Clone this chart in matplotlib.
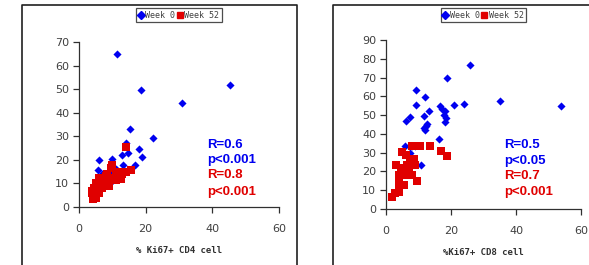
import matplotlib
matplotlib.use("Agg")
import matplotlib.pyplot as plt
from matplotlib.lines import Line2D

# ---- data ----
cd4_w0_x = [11.4, 45.3, 18.6, 31.0, 15.3, 22.1, 14.1, 18.1, 12.8, 14.8, 18.8, 6.0, 9.8,
            16.8, 13.3, 5.8, 12.4, 6.0, 8.0, 10.0, 12.0, 7.0, 9.0, 11.0]
cd4_w0_y = [64.8, 51.8, 49.5, 44.0, 33.1, 29.1, 27.3, 24.5, 22.1, 22.8, 21.1, 19.9, 20.2,
            17.8, 17.8, 15.7, 13.4, 12.0, 10.0, 11.0, 12.5, 14.0, 15.0, 16.0]
cd4_w52_x = [14.2, 15.5, 10.0, 9.5, 12.0, 11.0, 13.0, 14.0, 8.0, 7.5, 9.0, 10.0, 11.0, 6.0,
             5.0, 6.5, 4.5, 5.5, 4.0, 4.5, 5.0, 4.2, 6.0, 7.0, 8.0, 9.0, 3.8, 5.0, 12.5,
             7.0, 8.5, 6.0]
cd4_w52_y = [25.5, 15.5, 18.0, 16.5, 15.0, 13.0, 14.0, 15.0, 13.0, 12.0, 11.0, 12.5, 11.5,
             11.0, 10.0, 9.0, 8.0, 7.0, 6.0, 5.0, 4.0, 3.5, 6.0, 8.0, 9.5, 9.0, 7.0, 9.0,
             12.0, 10.0, 14.0, 12.5]

cd8_w0_x = [25.8, 18.7, 9.2, 12.1, 9.2, 35.2, 53.9, 20.8, 24.1, 16.6, 13.3, 17.2, 18.3,
            11.6, 17.7, 18.5, 18.3, 7.3, 6.3, 12.7, 11.6, 12.1, 12.3, 16.2, 5.9, 8.1,
            10.7, 9.0, 7.5]
cd8_w0_y = [76.7, 70.0, 63.3, 59.9, 55.3, 57.6, 54.9, 55.3, 55.8, 54.6, 52.1, 53.3, 52.3,
            49.6, 50.1, 48.2, 46.2, 48.9, 47.1, 45.4, 43.4, 42.2, 44.3, 37.2, 33.8, 33.8,
            23.6, 33.3, 29.8]
cd8_w52_x = [1.8, 2.9, 3.9, 3.2, 4.9, 6.2, 8.7, 7.9, 10.6, 13.6, 16.9, 18.8, 4.9, 3.9, 7.0,
             8.0, 6.5, 9.0, 9.6, 5.4, 3.9, 4.7, 7.5, 4.1, 6.0]
cd8_w52_y = [6.2, 8.5, 9.2, 23.2, 30.3, 28.9, 26.6, 33.3, 33.3, 33.3, 30.7, 28.3, 19.1,
             18.2, 20.0, 18.2, 23.2, 23.2, 15.1, 12.9, 14.7, 21.8, 24.5, 11.2, 17.9]

x_ticks = [0, 20, 40, 60]
cd4_y_ticks = [0, 10, 20, 30, 40, 50, 60, 70]
cd8_y_ticks = [0, 10, 20, 30, 40, 50, 60, 70, 80, 90]
legend_labels = ["Week 0", "Week 52"]
cd4_stats = ["R=0.6", "p<0.001", "R=0.8", "p<0.001"]
cd8_stats = ["R=0.5", "p<0.05", "R=0.7", "p<0.001"]
cd4_xlabel = "% Ki67+ CD4 cell"
cd8_xlabel = "%Ki67+ CD8 cell"

BLUE = "#0000f0"
RED = "#e00000"
W, H = 589, 265

fig = plt.figure(figsize=(W / 100, H / 100), dpi=100)
fig.patch.set_facecolor("white")

def fx(px):
    return px / W

def fy(py):
    return 1 - py / H

# panel frames
for xs, ys in [([22, 22, 297, 297], [265, 4.5, 4.5, 265]),
               ([333, 333, 589], [265, 4.5, 4.5])]:
    fig.add_artist(Line2D([fx(v) for v in xs], [fy(v) for v in ys], color="#202020",
                          lw=1.2, transform=fig.transFigure))

def panel(rect, w0x, w0y, w52x, w52y, yticks, ylim, stats, stat_x, stat_ys, xlabel, leg_c):
    ax = fig.add_axes(rect)
    ax.scatter(w0x, w0y, marker="D", s=17, color=BLUE, linewidths=0, zorder=3)
    ax.scatter(w52x, w52y, marker="s", s=36, color=RED, linewidths=0, zorder=4)
    ax.set_xlim(0, 60)
    ax.set_ylim(*ylim)
    ax.set_xticks(x_ticks)
    ax.set_yticks(yticks)
    for s in ["top", "right"]:
        ax.spines[s].set_visible(False)
    for s in ["left", "bottom"]:
        ax.spines[s].set_color("#303030")
        ax.spines[s].set_linewidth(0.9)
    ax.tick_params(axis="both", direction="out", length=4, width=0.9, colors="#303030",
                   labelsize=8, labelcolor="#404040", pad=3)
    ax.tick_params(axis="x", pad=8)
    for lab in ax.get_xticklabels() + ax.get_yticklabels():
        lab.set_family("DejaVu Sans")
    ax.set_xlabel(xlabel, family="DejaVu Sans Mono", fontweight="bold", fontsize=6.5,
                  color="#303030", labelpad=9)
    colors = [BLUE, BLUE, RED, RED]
    for t, yv, c in zip(stats, stat_ys, colors):
        ax.text(stat_x, yv, t, color=c, fontsize=9.5, fontweight="bold",
                family="Liberation Sans", ha="left", va="center")
    handles = [Line2D([], [], marker="D", ls="", color=BLUE, ms=4),
               Line2D([], [], marker="s", ls="", color=RED, ms=5)]
    leg = ax.legend(handles, legend_labels, loc="center", bbox_to_anchor=leg_c,
                    bbox_transform=fig.transFigure, ncol=2, frameon=True, fancybox=False,
                    edgecolor="#202020", handlelength=0.5, handletextpad=0.3,
                    columnspacing=0.3, borderpad=0.3, borderaxespad=0,
                    prop={"family": "DejaVu Sans Mono", "size": 6})
    leg.get_frame().set_linewidth(0.9)
    for t in leg.get_texts():
        t.set_color("#404040")
    return ax

panel([fx(79), fy(207), 200 / W, 165 / H], cd4_w0_x, cd4_w0_y, cd4_w52_x, cd4_w52_y,
      cd4_y_ticks, (0, 70), cd4_stats, 38.4, [26.3, 19.9, 13.6, 6.5], cd4_xlabel,
      (fx(179), fy(15)))
panel([fx(386), fy(209), 195 / W, 169 / H], cd8_w0_x, cd8_w0_y, cd8_w52_x, cd8_w52_y,
      cd8_y_ticks, (0, 90), cd8_stats, 36.4, [34.1, 25.7, 17.7, 9.2], cd8_xlabel,
      (fx(483.5), fy(15)))

fig.savefig("out.png", dpi=100, facecolor="white")
